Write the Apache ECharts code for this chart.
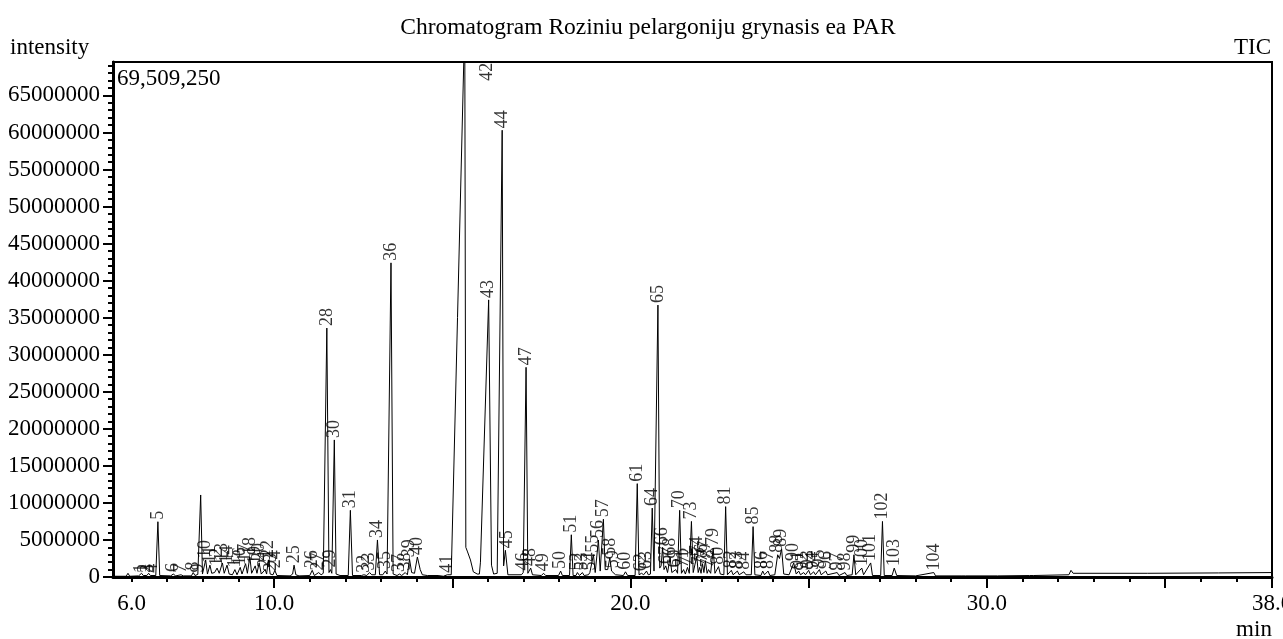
<!DOCTYPE html>
<html>
<head>
<meta charset="utf-8">
<title>Chromatogram</title>
<script src="https://cdn.jsdelivr.net/npm/echarts@6/dist/echarts.min.js"></script>
<style>
  html, body { margin: 0; padding: 0; background: #fff; }
  #main { width: 1283px; height: 639px; }
</style>
</head>
<body>
<div id="main"></div>
<script type="text/javascript">
// TIC trace: [retention time (min), intensity (millions)]
var traceMillions = [
  [5.48,0.1],[5.85,0.1],[5.90,0.5],[5.95,0.1],
  [6.20,0.15],[6.28,0.5],[6.33,0.2],[6.38,0.45],[6.43,0.2],[6.48,0.5],[6.53,0.2],[6.58,0.4],[6.68,0.2],[6.74,7.46],[6.79,0.2],
  [7.10,0.15],[7.17,0.4],[7.24,0.15],[7.39,0.3],[7.45,0.15],[7.68,0.15],[7.73,0.6],[7.78,0.2],[7.86,0.35],[7.90,0.3],[7.94,11.07],[7.99,0.4],
  [8.08,2.3],[8.13,0.4],[8.20,1.6],[8.25,0.5],[8.33,0.6],[8.40,1.2],[8.46,0.5],[8.55,1.9],[8.60,0.5],[8.68,1.6],[8.74,0.4],[8.83,0.3],[8.90,1.0],[8.96,0.3],
  [9.05,1.3],[9.10,0.4],[9.20,1.8],[9.25,0.5],[9.32,2.7],[9.37,0.5],[9.47,1.5],[9.52,0.5],[9.58,1.9],[9.64,0.4],[9.75,1.0],[9.79,0.4],[9.84,2.3],[9.89,0.4],[9.93,0.5],[9.97,0.3],
  [10.02,0.9],[10.08,0.2],[10.45,0.15],[10.52,0.4],[10.56,1.6],[10.61,0.3],[10.70,0.15],
  [11.00,0.2],[11.07,0.9],[11.13,0.2],[11.25,0.6],[11.32,0.3],[11.38,0.5],[11.48,33.6],[11.54,0.6],[11.58,1.0],[11.62,0.5],[11.69,18.5],[11.74,0.4],[11.85,0.2],
  [12.08,0.2],[12.14,9.0],[12.20,0.2],[12.45,0.2],[12.52,0.3],[12.60,0.2],[12.68,0.6],[12.74,0.3],[12.84,0.3],[12.90,5.0],[12.96,0.3],
  [13.05,0.3],[13.12,0.8],[13.17,0.4],[13.28,42.4],[13.34,0.4],[13.45,0.2],[13.52,0.4],[13.58,0.2],[13.68,0.6],[13.74,0.3],[13.80,2.4],[13.86,0.6],[13.94,0.5],
  [14.02,2.7],[14.10,1.0],[14.16,0.3],[14.30,0.2],[14.60,0.2],[14.75,0.1],[14.86,0.3],[14.97,0.3],
  [15.35,75.0],[15.38,4.0],[15.40,4.2],[15.42,3.5],[15.51,2.3],[15.59,0.7],[15.70,0.4],[15.76,0.4],[15.79,2.0],
  [16.02,37.4],[16.10,1.6],[16.16,0.4],[16.26,0.5],[16.40,60.3],[16.44,1.5],[16.49,3.6],[16.56,0.3],
  [16.94,0.3],[16.99,0.6],[17.02,0.4],[17.07,28.3],[17.12,0.5],[17.20,1.2],[17.25,0.3],[17.50,0.2],[17.56,0.5],[17.62,0.2],
  [17.98,0.2],[18.04,0.8],[18.09,0.2],[18.29,0.2],[18.34,5.7],[18.39,0.2],[18.47,0.2],[18.51,0.6],[18.57,0.2],[18.65,0.6],[18.70,0.2],
  [18.82,0.3],[18.86,0.6],[18.91,0.4],[18.96,3.0],[19.01,0.6],[19.05,0.8],[19.10,5.0],[19.15,0.8],[19.19,1.0],[19.24,7.8],[19.29,1.0],
  [19.36,1.0],[19.42,2.6],[19.47,0.8],[19.52,0.9],[19.58,0.3],[19.80,0.2],[19.86,0.7],[19.92,0.2],
  [20.13,0.2],[20.19,12.6],[20.24,0.3],[20.31,0.5],[20.37,0.3],[20.45,0.8],[20.50,0.3],[20.56,0.4],[20.61,9.3],[20.66,0.8],[20.70,1.0],
  [20.77,36.7],[20.82,1.2],[20.86,1.5],[20.90,4.0],[20.94,1.0],[20.99,1.5],[21.04,0.6],[21.11,2.6],[21.16,0.6],[21.27,1.0],[21.32,0.5],
  [21.38,9.0],[21.43,0.5],[21.49,1.0],[21.54,0.4],[21.60,1.3],[21.65,0.5],[21.71,7.5],[21.76,0.6],[21.86,2.8],[21.90,0.6],[21.94,1.3],
  [21.98,0.5],[22.02,1.8],[22.06,0.6],[22.10,2.2],[22.15,0.5],[22.19,1.0],[22.25,0.5],[22.32,3.9],[22.37,0.5],[22.47,1.4],[22.52,0.4],
  [22.62,0.3],[22.67,9.5],[22.72,0.3],[22.83,0.9],[22.88,0.3],[23.00,0.8],[23.05,0.3],[23.18,0.7],[23.24,0.3],[23.39,0.3],[23.44,6.8],[23.49,0.3],
  [23.66,0.2],[23.71,0.8],[23.76,0.3],[23.86,0.8],[23.91,0.2],[24.05,0.3],[24.13,3.0],[24.18,2.5],[24.24,3.8],[24.30,0.4],[24.45,0.3],
  [24.58,1.9],[24.65,0.4],[24.72,0.8],[24.77,0.3],[24.86,0.6],[24.91,0.3],[25.00,0.9],[25.05,0.3],[25.14,0.7],[25.19,0.3],[25.30,1.0],
  [25.35,0.3],[25.48,0.8],[25.53,0.3],[25.80,0.6],[25.85,0.2],[26.02,0.6],[26.07,0.2],[26.22,0.3],[26.27,3.0],[26.32,0.3],[26.49,1.2],
  [26.54,0.3],[26.74,1.9],[26.79,0.2],[27.02,0.2],[27.07,7.5],[27.12,0.2],[27.34,0.2],[27.40,1.2],[27.47,0.2],
  [28.00,0.15],[28.51,0.6],[28.56,0.15],[29.30,0.15],[29.35,0.4],[29.40,0.15],[30.20,0.15],[30.25,0.4],[30.30,0.15],
  [31.20,0.2],[31.25,0.4],[31.30,0.2],[32.30,0.3],[32.36,0.9],[32.42,0.5],[34.50,0.5],[36.50,0.55],[38.00,0.6]
];

// peak numbers printed above the trace, with where they sit
var peakNo = [
  1,2,3,4,5,6,7,8,9,10,11,12,13,14,15,16,17,18,19,20,21,22,23,24,25,26,27,28,29,30,
  31,32,33,34,35,36,37,38,39,40,41,42,43,44,45,46,47,48,49,50,51,52,53,54,55,56,57,58,59,60,
  61,62,63,64,65,66,67,68,69,70,71,72,73,74,75,76,77,78,79,80,81,82,83,84,85,86,87,88,89,90,
  91,92,93,94,95,96,97,98,99,100,101,102,103,104
];
var peakTime = [
  6.28,6.38,6.48,6.58,6.74,7.17,7.39,7.73,7.86,8.08,8.20,8.40,8.55,8.68,8.90,9.05,9.20,9.32,9.47,9.58,
  9.75,9.84,9.93,10.02,10.56,11.07,11.25,11.48,11.58,11.69,12.14,12.52,12.68,12.90,13.12,13.28,13.52,13.68,13.80,14.02,
  14.86,15.99,16.02,16.40,16.53,16.99,17.07,17.20,17.56,18.04,18.34,18.51,18.65,18.86,18.96,19.10,19.24,19.42,19.52,19.86,
  20.19,20.31,20.45,20.61,20.77,20.90,20.99,21.11,21.27,21.38,21.49,21.60,21.71,21.86,21.94,22.02,22.10,22.19,22.32,22.47,
  22.67,22.83,23.00,23.18,23.44,23.71,23.86,24.13,24.24,24.58,24.72,24.86,25.00,25.14,25.30,25.48,25.80,26.02,26.27,26.49,
  26.74,27.07,27.40,28.51
];
var peakHeightMillions = [
  0.3,0.3,0.3,0.3,7.46,0.4,0.3,0.6,0.35,2.3,1.6,1.2,1.9,1.6,1.0,1.3,1.8,2.7,1.5,1.9,
  1.0,2.3,0.5,0.9,1.6,0.9,0.6,33.6,1.0,18.5,9.0,0.3,0.6,5.0,0.8,42.4,0.4,0.6,2.4,2.7,
  0.3,69.4,37.4,60.3,3.6,0.6,28.3,1.2,0.5,0.8,5.7,0.6,0.6,0.6,3.0,5.0,7.8,2.6,0.9,0.7,
  12.6,0.5,0.8,9.3,36.7,4.0,1.5,2.6,1.0,9.0,1.0,1.3,7.5,2.8,1.3,1.8,2.2,1.0,3.9,1.4,
  9.5,0.9,0.8,0.7,6.8,0.8,0.8,3.0,3.8,1.9,0.8,0.6,0.9,0.7,1.0,0.8,0.6,0.6,3.0,1.2,
  1.9,7.5,1.2,0.6
];

// axis ticks and labels
var xMinorTicks = [6,7,8,9,10,11,12,13,14,15,16,17,18,19,20,21,22,23,24,25,26,27,28,29,30,31,32,33,34,35,36,37,38];
var xMajorTicks = [10,15,20,25,30,35,38];
var xLabels = [6,10,20,30,38];
var yMinorTicksMillions = [0,1,2,3,4,5,6,7,8,9,10,11,12,13,14,15,16,17,18,19,20,21,22,23,24,25,26,27,28,29,30,
  31,32,33,34,35,36,37,38,39,40,41,42,43,44,45,46,47,48,49,50,51,52,53,54,55,56,57,58,59,60,61,62,63,64,65,66,67,68,69];
var yLabels = [0,5000000,10000000,15000000,20000000,25000000,30000000,35000000,40000000,45000000,50000000,55000000,60000000,65000000];

var X_MIN = 5.48, X_MAX = 38.0, Y_MAX = 69509250;
var FONT = '"Liberation Serif", "Times New Roman", serif';

var traceData = traceMillions.map(function (p) { return [p[0], p[1] * 1e6]; });
var peakData = peakNo.map(function (n, i) {
  var item = { value: [peakTime[i], peakHeightMillions[i] * 1e6, n] };
  if (n === 42) {
    // this one is printed hanging from the top frame
    item.label = { position: 'bottom', align: 'right', distance: 0 };
  }
  return item;
});

var myChart = echarts.init(document.getElementById('main'));
var option = {
  animation: false,
  backgroundColor: '#fff',
  grid: {
    left: 113, right: 11, top: 62, bottom: 62,
    outerBoundsMode: 'none', containLabel: false,
    show: true, borderColor: '#000', borderWidth: 2
  },
  xAxis: [
    {
      type: 'value', min: X_MIN, max: X_MAX, position: 'bottom',
      axisLine: { show: true, lineStyle: { color: '#000', width: 3 } },
      axisTick: { show: true, customValues: xMinorTicks, length: 5, lineStyle: { color: '#000', width: 2 } },
      axisLabel: {
        customValues: xLabels, margin: 15, color: '#000', fontFamily: FONT, fontSize: 23,
        formatter: function (v) { return v.toFixed(1); }
      },
      splitLine: { show: false }
    },
    {
      type: 'value', min: X_MIN, max: X_MAX, position: 'bottom',
      axisLine: { show: false },
      axisTick: { show: true, customValues: xMajorTicks, length: 11, lineStyle: { color: '#000', width: 2 } },
      axisLabel: { show: false },
      splitLine: { show: false }
    }
  ],
  yAxis: [
    {
      type: 'value', min: 0, max: Y_MAX, position: 'left',
      axisLine: { show: true, lineStyle: { color: '#000', width: 3 } },
      axisTick: { show: true, customValues: yLabels, length: 10, lineStyle: { color: '#000', width: 2 } },
      axisLabel: {
        customValues: yLabels, margin: 13, color: '#000', fontFamily: FONT, fontSize: 23,
        formatter: function (v) { return String(v); }
      },
      splitLine: { show: false }
    },
    {
      type: 'value', min: 0, max: Y_MAX, position: 'left',
      axisLine: { show: false },
      axisTick: {
        show: true, length: 5, lineStyle: { color: '#000', width: 2 },
        customValues: yMinorTicksMillions.map(function (v) { return v * 1e6; })
      },
      axisLabel: { show: false },
      splitLine: { show: false }
    }
  ],
  graphic: [
    { type: 'text', x: 648, y: 28, style: { text: 'Chromatogram Roziniu pelargoniju grynasis ea PAR', fontFamily: FONT, fontSize: 23.5, fill: '#000', align: 'center', verticalAlign: 'middle' } },
    { type: 'text', x: 10, y: 48, style: { text: 'intensity', fontFamily: FONT, fontSize: 23, fill: '#000', align: 'left', verticalAlign: 'middle' } },
    { type: 'text', x: 1271, y: 48, style: { text: 'TIC', fontFamily: FONT, fontSize: 23, fill: '#000', align: 'right', verticalAlign: 'middle' } },
    { type: 'text', x: 117, y: 79, style: { text: '69,509,250', fontFamily: FONT, fontSize: 23, fill: '#000', align: 'left', verticalAlign: 'middle' } },
    { type: 'text', x: 1254, y: 630, style: { text: 'min', fontFamily: FONT, fontSize: 23, fill: '#000', align: 'center', verticalAlign: 'middle' } }
  ],
  series: [
    {
      type: 'line',
      data: traceData,
      symbol: 'none',
      clip: true,
      lineStyle: { color: '#000', width: 1 },
      z: 3
    },
    {
      type: 'scatter',
      data: peakData,
      symbolSize: 0,
      silent: true,
      clip: false,
      label: {
        show: true,
        position: 'top',
        distance: 2,
        rotate: 90,
        align: 'left',
        verticalAlign: 'middle',
        fontFamily: FONT,
        fontSize: 18,
        color: '#000',
        formatter: function (p) { return String(p.value[2]); }
      },
      z: 4
    }
  ]
};
myChart.setOption(option);
</script>
</body>
</html>
